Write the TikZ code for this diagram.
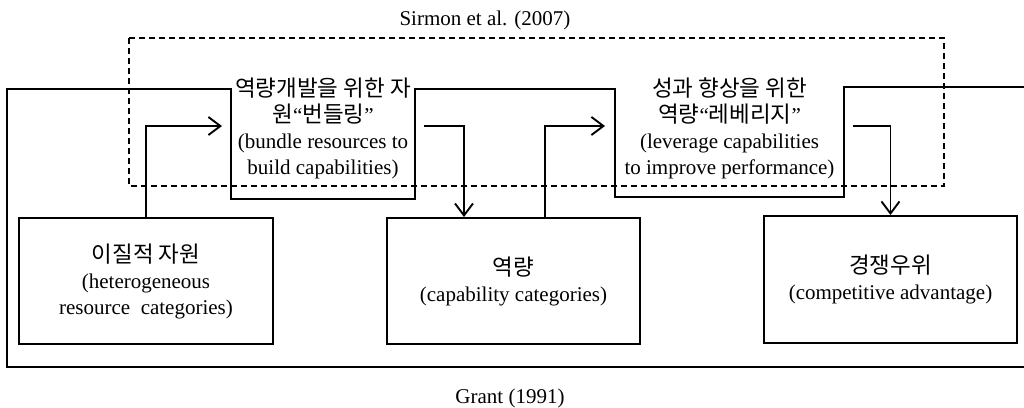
\documentclass[tikz,border=0pt]{standalone}
\usepackage{fontspec}
\setmainfont{Liberation Serif}
\newfontfamily\kr[Scale=1.07]{Noto Sans CJK KR}
\usetikzlibrary{arrows.meta}
\begin{document}
\begin{tikzpicture}[x=1pt,y=-1pt,
  box/.style={draw, line width=1.9pt, inner sep=0pt, align=center, font=\fontsize{21}{26}\selectfont},
  txt/.style={align=center, font=\fontsize{21}{26}\selectfont, inner sep=0pt},
  arr/.style={line width=1.9pt, -{Straight Barb[length=12pt,width=18pt]}},
  grantline/.style={line width=2pt},
  sirmonline/.style={line width=1.5pt, dash pattern=on 6pt off 4pt}]
\useasboundingbox (0,0) rectangle (1024,407);

% Sirmon et al. dashed frame
\coordinate (d1) at (129,38);
\coordinate (d2) at (944,186);
\draw[sirmonline] (d1) rectangle (d2);
\node[txt] (sirmon) at (485,20) {Sirmon et al. (2007)};

% Grant line (with open-topped boxes)
\coordinate (g0) at (1024,87);
\coordinate (b2ne) at (844,87);
\coordinate (b2se) at (844,197);
\coordinate (b2sw) at (615,197);
\coordinate (b2nw) at (615,89);
\coordinate (b1ne) at (415,89);
\coordinate (b1se) at (415,199);
\coordinate (b1sw) at (231,199);
\coordinate (b1nw) at (231,89);
\coordinate (gl) at (7,89);
\coordinate (gbl) at (7,367);
\coordinate (gbr) at (1024,367);
\draw[grantline] (g0) -- (b2ne) -- (b2se) -- (b2sw) -- (b2nw) -- (b1ne) -- (b1se)
  -- (b1sw) -- (b1nw) -- (gl) -- (gbl) -- (gbr);
\node[txt] (grant) at (510,398) {Grant (1991)};

% texts of open boxes
\node[txt] (t1) at (323,128) {{\kr 역량개발을 위한 자}\\{\kr 원}“{\kr 번들링}”\\(bundle resources to\\build capabilities)};
\node[txt] (t2) at (729.5,128) {{\kr 성과 향상을 위한}\\{\kr 역량}“{\kr 레베리지}”\\(leverage capabilities\\to improve performance)};

% bottom boxes
\node[box, minimum width=254pt, minimum height=126pt] (boxA) at (146,281)
  {{\kr 이질적 자원}\\(heterogeneous\\resource\ \ categories)};
\node[box, minimum width=253pt, minimum height=126pt] (boxB) at (513.5,281)
  {{\kr 역량}\\(capability categories)};
\node[box, minimum width=253pt, minimum height=127pt] (boxC) at (890.5,279.5)
  {{\kr 경쟁우위}\\(competitive advantage)};

% arrows
\coordinate (a1e) at (222,126);
\coordinate (a2s) at (424,126);
\coordinate (a2x) at (464,0);
\coordinate (a3x) at (545,0);
\coordinate (a3e) at (605,126);
\coordinate (a4s) at (853,126);
\draw[arr] (boxA.north) |- (a1e);
\draw[arr] (a2s) -| (boxB.north -| a2x);
\draw[arr] (boxB.north -| a3x) |- (a3e);
\draw[arr] (a4s) -| (boxC.north);
\end{tikzpicture}
\end{document}
